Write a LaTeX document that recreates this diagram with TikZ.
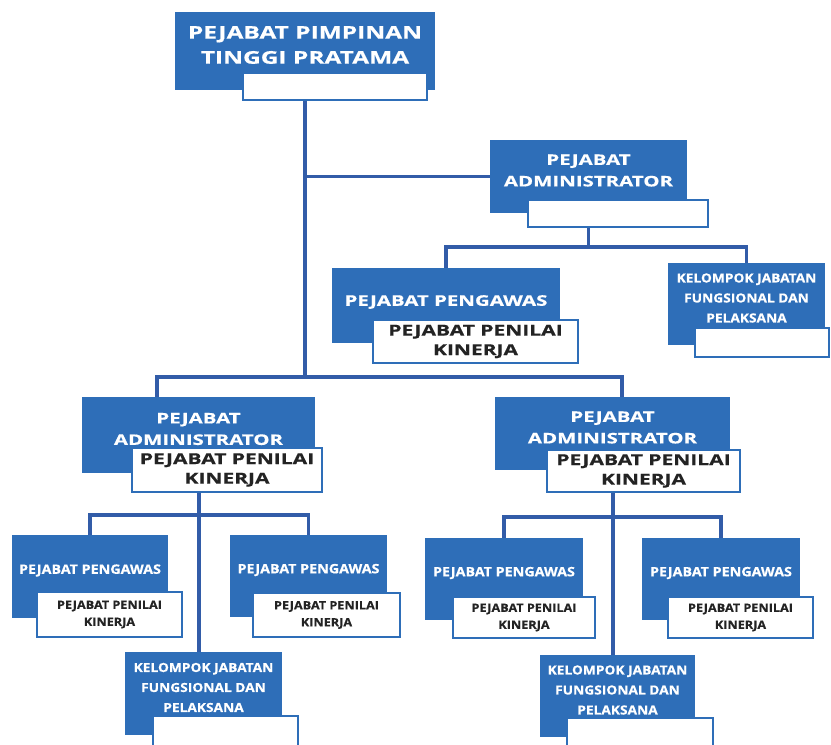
\documentclass[tikz,border=0pt]{standalone}
\usepackage{fontspec}
\newfontfamily\orgfont[FakeStretch=1.4,FakeBold=0.6]{Open Sans}
\newfontfamily\orgsmall[FakeStretch=1.1,FakeBold=0.5]{Open Sans}
\definecolor{orgblue}{RGB}{46,110,184}
\definecolor{orgline}{RGB}{50,92,168}
\definecolor{orgtext}{RGB}{35,35,35}
\begin{document}
\begin{tikzpicture}[
    x=1pt, y=-1pt,
    box/.style={fill=orgblue, inner sep=0pt},
    sub/.style={fill=white, draw=orgblue, line width=1.3pt, inner sep=0pt,
      align=center, text=orgtext},
    lbl/.style={text=white, align=center, inner sep=0pt, yshift=6pt},
    conn/.style={draw=orgline, line width=3.2pt},
    headfont/.style={font=\orgfont\bfseries\fontsize{17.5}{25}\selectfont},
    bigfont/.style={font=\orgfont\bfseries\fontsize{14.6}{21.5}\selectfont},
    penfont/.style={font=\orgfont\bfseries\fontsize{15}{19.5}\selectfont},
    minifont/.style={font=\orgsmall\bfseries\fontsize{13}{16}\selectfont},
    minipen/.style={font=\orgsmall\bfseries\fontsize{11.5}{17}\selectfont},
    groupfont/.style={font=\orgsmall\bfseries\fontsize{12.5}{20}\selectfont},
  ]
  \useasboundingbox (0,0) rectangle (831,745);

  % pimpinan
  \node[box, minimum width=260, minimum height=78,
    label={[lbl,headfont]center:{PEJABAT PIMPINAN\\TINGGI PRATAMA}}] (top) at (305,51) {};
  \node[sub, minimum width=184, minimum height=27] (topw) at (335,86.5) {};

  % administrator atas
  \node[box, minimum width=197, minimum height=73,
    label={[lbl,bigfont]center:{PEJABAT\\ADMINISTRATOR}}] (adm) at (588.5,176.5) {};
  \node[sub, minimum width=180, minimum height=27] (admw) at (618,213.5) {};

  \node[box, minimum width=228, minimum height=75,
    label={[lbl,bigfont,yshift=-2.5pt]center:{PEJABAT PENGAWAS}}] (pg) at (446,305.5) {};
  \node[sub, penfont, minimum width=205, minimum height=43] (pgw) at (475.5,341.5)
    {PEJABAT PENILAI\\KINERJA};

  \node[box, minimum width=157, minimum height=82,
    label={[lbl,groupfont]center:{KELOMPOK JABATAN\\FUNGSIONAL DAN\\PELAKSANA}}] (kjf) at (746.5,304) {};
  \node[sub, minimum width=134, minimum height=29] (kjfw) at (762,342.5) {};

  % administrator kiri
  \node[box, minimum width=233, minimum height=76,
    label={[lbl,bigfont]center:{PEJABAT\\ADMINISTRATOR}}] (la) at (198.5,435) {};
  \node[sub, penfont, minimum width=190, minimum height=44] (law) at (227,470)
    {PEJABAT PENILAI\\KINERJA};

  \node[box, minimum width=156, minimum height=83,
    label={[lbl,minifont]center:{PEJABAT PENGAWAS}}] (lp1) at (90,576.5) {};
  \node[sub, minipen, minimum width=145, minimum height=45] (lp1w) at (109.5,614.5)
    {PEJABAT PENILAI\\KINERJA};
  \node[box, minimum width=157, minimum height=82,
    label={[lbl,minifont]center:{PEJABAT PENGAWAS}}] (lp2) at (308.5,576) {};
  \node[sub, minipen, minimum width=147, minimum height=44] (lp2w) at (326.5,615)
    {PEJABAT PENILAI\\KINERJA};

  \node[box, minimum width=157, minimum height=83,
    label={[lbl,groupfont]center:{KELOMPOK JABATAN\\FUNGSIONAL DAN\\PELAKSANA}}] (lk) at (203.5,693.5) {};
  \node[sub, minimum width=145, minimum height=36] (lkw) at (225.5,734) {};

  % administrator kanan
  \node[box, minimum width=235, minimum height=73,
    label={[lbl,bigfont]center:{PEJABAT\\ADMINISTRATOR}}] (ra) at (612.5,433.5) {};
  \node[sub, penfont, minimum width=193, minimum height=42] (raw) at (643.5,471)
    {PEJABAT PENILAI\\KINERJA};

  \node[box, minimum width=158, minimum height=82,
    label={[lbl,minifont]center:{PEJABAT PENGAWAS}}] (rp1) at (504,579) {};
  \node[sub, minipen, minimum width=142, minimum height=41] (rp1w) at (524,617.5)
    {PEJABAT PENILAI\\KINERJA};
  \node[box, minimum width=158, minimum height=82,
    label={[lbl,minifont]center:{PEJABAT PENGAWAS}}] (rp2) at (721,579) {};
  \node[sub, minipen, minimum width=145, minimum height=41] (rp2w) at (740.5,617.5)
    {PEJABAT PENILAI\\KINERJA};

  \node[box, minimum width=155, minimum height=82,
    label={[lbl,groupfont]center:{KELOMPOK JABATAN\\FUNGSIONAL DAN\\PELAKSANA}}] (rk) at (617.5,696) {};
  \node[sub, minimum width=146, minimum height=34] (rkw) at (640,735) {};

  % garis
  \coordinate (barL) at (157,377);
  \coordinate (barR) at (622,377);
  \coordinate (admbar) at (0,247);
  \coordinate (lbar) at (0,515);
  \coordinate (rbar) at (0,517);

  \draw[conn, line width=4pt] (top |- topw.south) -- (top |- barL);
  \draw[conn] (top |- adm.west) -- (adm.west);
  \draw[conn] (barL |- la.north) -- (barL) -- (barR) -- (barR |- ra.north);

  \draw[conn] (adm |- admw.south) -- (adm |- admbar);
  \draw[conn] (pg.north) -- (pg |- admbar) -- (kjf |- admbar) -- (kjf.north);

  \draw[conn, line width=4pt] (la |- law.south) -- (la |- lk.north);
  \draw[conn] (lp1.north) -- (lp1 |- lbar) -- (lp2 |- lbar) -- (lp2.north);

  \draw[conn, line width=4pt] (ra |- raw.south) -- (ra |- rk.north);
  \draw[conn] (rp1.north) -- (rp1 |- rbar) -- (rp2 |- rbar) -- (rp2.north);
\end{tikzpicture}
\end{document}
